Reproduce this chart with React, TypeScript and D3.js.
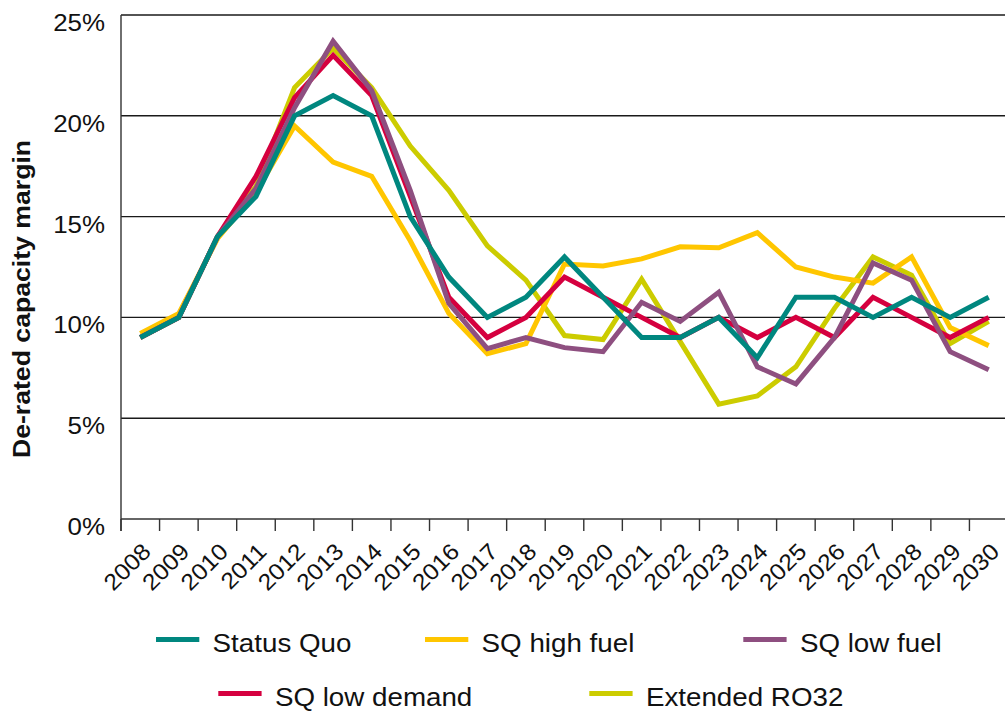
import React from "react";
import * as d3 from "d3";

const years = ["2008","2009","2010","2011","2012","2013","2014","2015","2016","2017","2018","2019","2020","2021","2022","2023","2024","2025","2026","2027","2028","2029","2030"];
const yTicks = [0, 5, 10, 15, 20, 25];

const statusQuo = [9, 10, 14, 16, 20, 21, 20, 15, 12, 10, 11, 13, 11, 9, 9, 10, 8, 11, 11, 10, 11, 10, 11];
const sqHighFuel = [9.2, 10.2, 13.9, 16.2, 19.5, 17.7, 17.0, 13.8, 10.2, 8.2, 8.7, 12.65, 12.55, 12.9, 13.5, 13.45, 14.2, 12.5, 12.0, 11.7, 13.0, 9.5, 8.6];
const sqLowFuel = [9, 10, 14, 16.4, 20.4, 23.7, 21.25, 16.3, 10.7, 8.45, 9.0, 8.5, 8.3, 10.75, 9.8, 11.25, 7.55, 6.7, 9.0, 12.7, 11.85, 8.3, 7.4];
const sqLowDemand = [9, 10, 14, 17, 20.9, 23, 21, 16, 11, 9, 10, 12, 11, 10, 9, 10, 9, 10, 9, 11, 10, 9, 10];
const extendedRO32 = [9, 10, 14, 16.5, 21.4, 23.35, 21.4, 18.5, 16.3, 13.55, 11.85, 9.1, 8.9, 11.9, 8.8, 5.7, 6.1, 7.55, 10.45, 13.0, 12.1, 8.7, 9.8];

const seriesNames = ["Status Quo", "SQ high fuel", "SQ low fuel", "SQ low demand", "Extended RO32"];
const seriesColors = ["#00877F", "#FFC600", "#8E4F80", "#D5003F", "#CCCC00"];
const seriesValues = [statusQuo, sqHighFuel, sqLowFuel, sqLowDemand, extendedRO32];
const drawOrder = [4, 1, 3, 2, 0];

const W = 1005, H = 711;
const left = 121, right = 1008, top = 15, bottom = 519;
const FONT = "'Liberation Sans', Arial, Helvetica, sans-serif";

export default function App() {
  const x = d3.scaleBand<string>().domain(years).range([left, right]).padding(0);
  const y = d3.scaleLinear().domain([0, 25]).range([bottom, top]);
  const bw = x.bandwidth();
  const cx = (yr: string) => (x(yr) as number) + bw / 2;

  const line = d3.line<number>()
    .x((_, i) => cx(years[i]))
    .y((v) => y(v));

  const boundaries = years.map((yr) => x(yr) as number);

  const legendRows = [
    [{ i: 0, sx: 156 }, { i: 1, sx: 425 }, { i: 2, sx: 743.3 }],
    [{ i: 3, sx: 218.3 }, { i: 4, sx: 589.3 }],
  ];
  const legendY = [639.5, 693.5];

  return (
    <svg width={W} height={H} style={{ position: "absolute", left: 0, top: 0, background: "#fff" }} fontFamily={FONT}>
      {/* gridlines */}
      {yTicks.filter((t) => t > 0).map((t) => (
        <line key={"g" + t} x1={left} x2={right} y1={y(t)} y2={y(t)} stroke="#1a1a1a" strokeWidth={1.4} />
      ))}
      {/* axes */}
      <line x1={left} x2={left} y1={top} y2={bottom + 12} stroke="#333" strokeWidth={1.4} />
      <line x1={left} x2={right} y1={bottom} y2={bottom} stroke="#333" strokeWidth={1.4} />
      {boundaries.map((b, i) => (
        <line key={"t" + i} x1={b} x2={b} y1={bottom} y2={bottom + 12} stroke="#333" strokeWidth={1.4} />
      ))}
      {/* y tick labels */}
      {yTicks.map((t) => (
        <text key={"yl" + t} transform={`translate(105,${y(t) + 16}) scale(1.08,1)`} textAnchor="end" fontSize={24} fill="#111">
          {t + "%"}
        </text>
      ))}
      {/* x tick labels */}
      {years.map((yr) => (
        <text key={"xl" + yr} transform={`translate(${cx(yr) + 12},${bottom + 34}) rotate(-45) scale(1.08,1)`} textAnchor="end" fontSize={23} fill="#111">
          {yr}
        </text>
      ))}
      {/* y axis title */}
      <text transform={`translate(30,299) rotate(-90) scale(1.11,1)`} textAnchor="middle" fontSize={24} fontWeight="bold" fill="#111">
        De-rated capacity margin
      </text>
      {/* series */}
      {drawOrder.map((si) => (
        <path key={"s" + si} d={line(seriesValues[si]) as string} fill="none" stroke={seriesColors[si]} strokeWidth={5} />
      ))}
      {/* legend */}
      {legendRows.map((row, r) =>
        row.map((it) => (
          <g key={"lg" + it.i}>
            <line x1={it.sx} x2={it.sx + 43.3} y1={legendY[r]} y2={legendY[r]} stroke={seriesColors[it.i]} strokeWidth={5} />
            <text transform={`translate(${it.sx + 56.6},${legendY[r] + 12.5}) scale(1.11,1)`} fontSize={25} fill="#111">
              {seriesNames[it.i]}
            </text>
          </g>
        ))
      )}
    </svg>
  );
}
